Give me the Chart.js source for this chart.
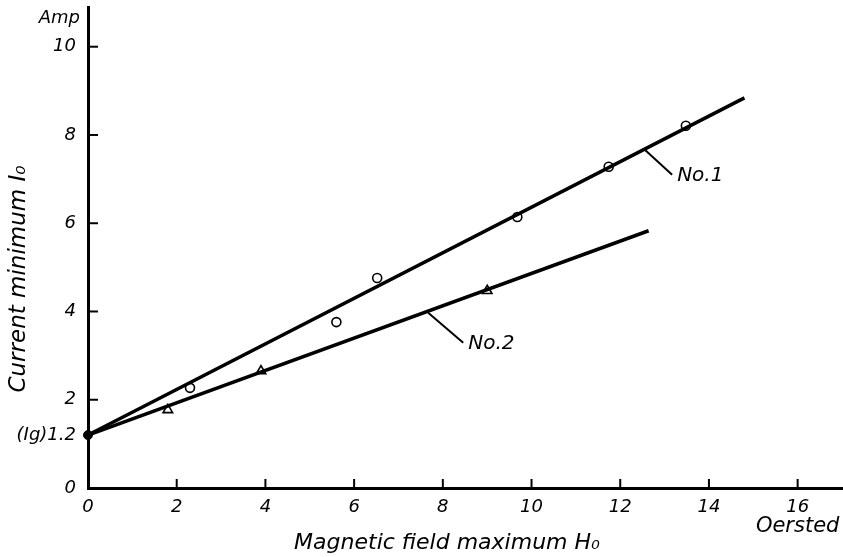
<!DOCTYPE html>
<html>
<head>
<meta charset="utf-8">
<script src="https://cdn.jsdelivr.net/npm/chart.js@4"></script>
<style>
  html, body { margin: 0; padding: 0; background: #fff; }
  canvas { display: block; }
</style>
</head>
<body>
<canvas id="chart" width="843" height="557"></canvas>
<script>
// Data
const xTicks = [0, 2, 4, 6, 8, 10, 12, 14, 16];
const yTicks = [0, 1.2, 2, 4, 6, 8, 10];

// Measured points, sample No.1 (circles) and No.2 (triangles)
const no1X = [2.3, 5.6, 6.52, 9.68, 11.74, 13.48];
const no1Y = [2.27, 3.76, 4.76, 6.14, 7.28, 8.21];
const no2X = [1.8, 3.9, 9.0];
const no2Y = [1.77, 2.65, 4.47];

// Straight lines drawn through them (start at Ig = 1.2)
const fit1X = [0, 14.8];
const fit1Y = [1.2, 8.84];
const fit2X = [0, 12.64];
const fit2Y = [1.2, 5.83];
const igX = [0];
const igY = [1.2];

// Labels with their leader lines (data units)
const tagNames = ['No.1', 'No.2'];
const tagFromX = [12.56, 7.67];
const tagFromY = [7.66, 3.97];
const tagToX = [13.17, 8.46];
const tagToY = [7.10, 3.29];

const zip = (xs, ys) => xs.map((x, i) => ({ x: x, y: ys[i] }));

const FONT = "'DejaVu Sans', sans-serif";
const tickFont = { family: FONT, style: 'italic', size: 18 };

// Extra drawing: inward tick marks, titles, tags
const decorations = {
    id: 'decorations',
    afterDraw(chart) {
        const ctx = chart.ctx;
        const xs = chart.scales.x;
        const ys = chart.scales.y;
        const area = chart.chartArea;
        ctx.save();
        ctx.strokeStyle = '#000';
        ctx.fillStyle = '#000';

        // short tick marks pointing into the plot
        ctx.lineWidth = 2;
        xTicks.forEach(v => {
            if (v === 0) return;
            const px = xs.getPixelForValue(v);
            ctx.beginPath();
            ctx.moveTo(px, area.bottom);
            ctx.lineTo(px, area.bottom - 9);
            ctx.stroke();
        });
        yTicks.forEach(v => {
            if (v === 0 || v === 1.2) return;
            const py = ys.getPixelForValue(v);
            ctx.beginPath();
            ctx.moveTo(area.left, py);
            ctx.lineTo(area.left + 10, py);
            ctx.stroke();
        });

        // leader lines and tag text
        ctx.lineWidth = 2;
        ctx.font = 'italic 20px ' + FONT;
        ctx.textAlign = 'left';
        ctx.textBaseline = 'middle';
        tagNames.forEach((name, i) => {
            const x0 = xs.getPixelForValue(tagFromX[i]);
            const y0 = ys.getPixelForValue(tagFromY[i]);
            const x1 = xs.getPixelForValue(tagToX[i]);
            const y1 = ys.getPixelForValue(tagToY[i]);
            ctx.beginPath();
            ctx.moveTo(x0, y0);
            ctx.lineTo(x1, y1);
            ctx.stroke();
            ctx.fillText(name, x1 + 5, y1 + 1);
        });

        // units
        ctx.font = 'italic 18px ' + FONT;
        ctx.textAlign = 'right';
        ctx.fillText('Amp', area.left - 8, 18);
        ctx.textAlign = 'center';
        ctx.font = 'italic 21px ' + FONT;
        ctx.fillText('Oersted', xs.getPixelForValue(16), area.bottom + 39);

        // axis titles
        ctx.font = 'italic 22px ' + FONT;
        ctx.fillText('Magnetic field maximum H\u2080', 447, 543);
        ctx.translate(19, 279);
        ctx.rotate(-Math.PI / 2);
        ctx.font = 'italic 23px ' + FONT;
        ctx.fillText('Current minimum I\u2080', 0, 0);
        ctx.restore();
    }
};

new Chart(document.getElementById('chart'), {
    type: 'scatter',
    data: {
        datasets: [
            {
                label: 'No.1 line', type: 'line', data: zip(fit1X, fit1Y),
                borderColor: '#000', borderWidth: 3.5, pointRadius: 0, fill: false, clip: false
            },
            {
                label: 'No.2 line', type: 'line', data: zip(fit2X, fit2Y),
                borderColor: '#000', borderWidth: 3.5, pointRadius: 0, fill: false, clip: false
            },
            {
                label: 'No.1', data: zip(no1X, no1Y), pointStyle: 'circle', pointRadius: 4.5,
                backgroundColor: '#fff', borderColor: '#000', borderWidth: 1.6, clip: false
            },
            {
                label: 'No.2', data: zip(no2X, no2Y), pointStyle: 'triangle', pointRadius: 5.5,
                backgroundColor: '#fff', borderColor: '#000', borderWidth: 1.6, clip: false
            },
            {
                label: 'Ig', data: zip(igX, igY), pointStyle: 'circle', pointRadius: 4.5,
                backgroundColor: '#000', borderColor: '#000', borderWidth: 1, clip: false
            }
        ]
    },
    options: {
        responsive: false,
        animation: false,
        layout: { autoPadding: false, padding: { top: 7, right: 1, left: 0, bottom: 0 } },
        plugins: {
            legend: { display: false },
            tooltip: { enabled: false }
        },
        scales: {
            x: {
                type: 'linear',
                min: 0,
                max: 17,
                afterBuildTicks: (scale) => { scale.ticks = xTicks.map(v => ({ value: v })); },
                afterFit: (scale) => {
                    scale.height = 69;
                    scale.paddingLeft = 0;
                    scale.paddingRight = 0;
                },
                grid: { display: false, drawTicks: false },
                border: { display: true, color: '#000', width: 3 },
                ticks: { font: tickFont, color: '#000', padding: 9, maxRotation: 0, autoSkip: false }
            },
            y: {
                type: 'linear',
                min: 0,
                max: 10.9,
                afterBuildTicks: (scale) => { scale.ticks = yTicks.map(v => ({ value: v })); },
                afterFit: (scale) => {
                    scale.width = 88;
                    scale.paddingTop = 0;
                    scale.paddingBottom = 0;
                },
                grid: { display: false, drawTicks: false },
                border: { display: true, color: '#000', width: 3 },
                ticks: {
                    font: tickFont, color: '#000', padding: 12, autoSkip: false,
                    callback: (v) => (v === 1.2 ? '(Ig)1.2' : v)
                }
            }
        }
    },
    plugins: [decorations]
});
</script>
</body>
</html>
